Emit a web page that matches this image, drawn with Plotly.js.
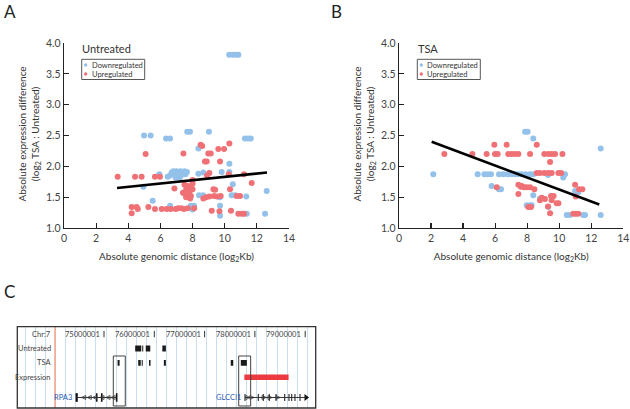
<!DOCTYPE html>
<html><head><meta charset="utf-8">
<script src="https://cdn.plot.ly/plotly-3.0.1.min.js"></script>
<style>html,body{margin:0;padding:0;background:#fff}#chart{width:630px;height:409px}</style>
</head><body><div id="chart"></div>
<script>
// ---------- DATA ----------
// Panel A (Untreated)
const untreatedDownX = [10.28,10.5,10.7,10.85,4.98,5.39,6.35,6.6,7.67,7.84,9.02,11.26,11.45,11.62,8.36,10.29,5.93,4.94,5.52,6.6,
  6.45,6.6,6.7,6.8,6.9,7.0,7.05,7.15,7.25,7.3,7.4,7.5,7.55,7.65,6.95,7.2,8.67,9.81,10.29,8.36,10.5,8.4,8.65,10.43,10.64,12.61,
  7.89,8.09,9.71,9.71,11.37,12.51,9.7,8.0,11.34];
const untreatedDownY = [3.81,3.81,3.81,3.81,2.50,2.50,2.45,2.45,2.56,2.56,2.56,2.45,2.45,2.45,2.29,2.04,1.87,1.67,1.44,1.36,
  1.83,1.85,1.90,1.92,1.88,1.92,1.85,1.90,1.92,1.86,1.90,1.92,1.87,1.91,1.82,1.81,1.90,1.91,1.91,1.88,1.71,1.53,1.53,1.53,1.53,1.60,
  1.36,1.36,1.36,1.20,1.23,1.23,1.50,1.30,1.51];
const untreatedUpX = [5.08,3.34,4.42,4.83,5.66,5.97,6.87,4.21,4.52,4.59,5.25,5.66,6.08,6.39,6.64,6.95,7.47,4.21,10.29,8.5,
  8.6,7.43,8.98,9.13,9.6,9.96,8.77,8.88,9.71,9.04,8.9,10.25,11.68,7.5,7.7,7.9,7.6,7.8,8.0,7.5,
  7.7,7.9,7.6,7.8,7.4,8.0,7.85,9.3,9.4,10.33,8.67,8.84,9.04,9.33,9.54,9.75,10.75,10.95,9.19,10.39,
  9.67,10.85,11.06,11.2,7.1,7.3,7.7,8.1,11.2,8.0];
const untreatedUpY = [2.20,1.83,1.83,1.83,1.83,1.83,1.64,1.34,1.34,1.31,1.34,1.31,1.31,1.31,1.31,1.31,1.31,1.24,2.37,2.35,
  2.33,2.21,2.21,2.21,2.28,2.28,2.08,2.08,2.08,1.89,1.85,1.87,1.73,1.70,1.68,1.66,1.62,1.60,1.63,1.56,
  1.55,1.52,1.50,1.58,1.57,1.72,1.48,1.63,1.62,1.63,1.48,1.50,1.51,1.52,1.51,1.52,1.52,1.52,1.28,1.28,
  1.27,1.23,1.23,1.23,1.32,1.32,1.32,1.32,1.87,1.78];
const untreatedFitX = [3.3, 12.63];
const untreatedFitY = [1.65, 1.90];

// Panel B (TSA)
const tsaDownX = [2.14,4.91,5.33,5.54,5.74,6.24,6.51,6.78,7.03,7.25,7.45,7.65,7.9,8.18,8.38,10.36,10.25,5.78,6.24,6.37,
  7.87,8.03,8.38,12.59,8.38,8.8,7.97,8.18,8.28,9.32,10.47,10.67,11.5,11.61,10.99,11.19,12.59,9.3];
const tsaDownY = [1.87,1.87,1.87,1.87,1.87,1.87,1.87,1.87,1.87,1.87,1.87,1.87,1.87,1.87,1.87,1.87,1.82,1.68,1.63,1.63,
  2.56,2.56,2.45,2.29,1.53,1.48,1.37,1.37,1.37,1.34,1.21,1.21,1.21,1.21,1.60,1.58,1.21,1.86];
const tsaUpX = [2.83,4.58,5.47,5.99,6.16,5.95,6.72,6.82,7.03,7.24,7.45,6.1,8.6,8.18,9.07,9.32,9.53,9.74,10.2,9.43,
  8.6,8.8,9.07,9.32,9.53,9.95,10.12,7.45,7.66,7.97,8.18,8.45,7.45,8.91,9.11,8.8,9.49,9.65,9.84,9.95,
  9.53,10.99,11.24,11.44,11.03,8.07,8.24,9.43,10.88,11.03,11.19,7.6,7.8,9.3];
const tsaUpY = [2.20,2.20,2.20,2.20,2.20,2.35,2.35,2.20,2.20,2.20,2.20,1.66,2.35,2.20,2.20,2.20,2.20,2.20,2.20,2.07,
  1.89,1.89,1.89,1.89,1.89,1.89,1.89,1.70,1.68,1.66,1.66,1.63,1.55,1.49,1.47,1.45,1.52,1.52,1.40,1.40,
  1.45,1.70,1.63,1.63,1.51,1.34,1.34,1.24,1.23,1.23,1.23,1.67,1.66,1.35];
const tsaFitX = [2.04, 12.5];
const tsaFitY = [2.40, 1.38];

const xTickVals = [0,2,4,6,8,10,12,14];
const yTickVals = [1.0,1.5,2.0,2.5,3.0,3.5,4.0];
const xTitleText = 'Absolute genomic distance (log<sub>2</sub>Kb)';
const yTitleText = 'Absolute expression difference<br>(log<sub>2</sub> TSA : Untreated)';

// Panel C (genome browser, chr7, Mb)
const trackNames = ['Chr:7','Untreated','TSA','Expression'];
const coordTicksMb = [75,76,77,78,79];
const coordTickLabels = ['75000001','76000001','77000001','78000001','79000001'];
const untreatedPeakStart = [75.62,75.76,75.83,76.16];
const untreatedPeakEnd   = [75.74,75.78,75.92,76.23];
const tsaPeakStart = [75.27,75.68,75.75,75.895,76.19,77.52,77.72];
const tsaPeakEnd   = [75.31,75.73,75.77,75.925,76.23,77.57,77.84];
const expressionStart = [77.79];
const expressionEnd   = [78.67];
const highlightStart = [75.185,77.678];
const highlightEnd   = [75.423,77.916];
const geneNames = ['RPA3','GLCCI1'];
const geneStart = [74.443,77.803];
const geneEnd   = [75.252,79.016];
const rpa3Exons = [74.45,74.462,74.855,74.955,75.252];
const rpa3Arrows = [74.557,74.668,74.775,74.92,75.04,75.14];
const glcci1Exons = [77.803,78.068,78.167,78.286,78.42,78.593,78.678,78.732,78.797,78.897];
const glcci1Arrows = [77.903,77.982,78.221,78.34,78.499];

// ---------- LAYOUT HELPERS ----------
const W = 630, H = 409;
const px = v => v / W;
const py = v => 1 - v / H;
const FONT = 'Lato, "Open Sans", sans-serif';
const BLUE = '#93c1ea', RED = '#ef7176';
const rowY = {'Chr:7':0,'Untreated':1,'TSA':2,'Expression':3,'Genes':4.4};

function scatter(x, y, color, xa, ya, name){
  return {type:'scatter', mode:'markers', x:x, y:y, xaxis:xa, yaxis:ya, name:name, showlegend:false,
    marker:{color:color, size:6, line:{width:0}}, hoverinfo:'x+y'};
}
function fit(x, y, xa, ya){
  return {type:'scatter', mode:'lines', x:x, y:y, xaxis:xa, yaxis:ya, showlegend:false,
    line:{color:'#000', width:2.6}, hoverinfo:'skip'};
}

const traces = [
  scatter(untreatedDownX, untreatedDownY, BLUE, 'x', 'y', 'Downregulated'),
  scatter(untreatedUpX, untreatedUpY, RED, 'x', 'y', 'Upregulated'),
  fit(untreatedFitX, untreatedFitY, 'x', 'y'),
  scatter(tsaDownX, tsaDownY, BLUE, 'x2', 'y2', 'Downregulated'),
  scatter(tsaUpX, tsaUpY, RED, 'x2', 'y2', 'Upregulated'),
  fit(tsaFitX, tsaFitY, 'x2', 'y2'),
  {type:'scatter', mode:'markers', x:rpa3Exons, y:rpa3Exons.map(()=>rowY.Genes), xaxis:'x3', yaxis:'y3', showlegend:false,
    marker:{symbol:'line-ns', size:6, line:{color:'#111', width:1.6}}, hoverinfo:'skip'},
  {type:'scatter', mode:'markers', x:rpa3Arrows, y:rpa3Arrows.map(()=>rowY.Genes), xaxis:'x3', yaxis:'y3', showlegend:false,
    marker:{symbol:'arrow-left-open', size:4, color:'#333', line:{color:'#333', width:0.8}}, hoverinfo:'skip'},
  {type:'scatter', mode:'markers', x:glcci1Exons, y:glcci1Exons.map(()=>rowY.Genes), xaxis:'x3', yaxis:'y3', showlegend:false,
    marker:{symbol:'line-ns', size:5, line:{color:'#111', width:1}}, hoverinfo:'skip'},
  {type:'scatter', mode:'markers', x:glcci1Arrows, y:glcci1Arrows.map(()=>rowY.Genes), xaxis:'x3', yaxis:'y3', showlegend:false,
    marker:{symbol:'arrow-right-open', size:4, color:'#333', line:{color:'#333', width:0.8}}, hoverinfo:'skip'},
  {type:'scatter', mode:'markers', x:[geneEnd[1]], y:[rowY.Genes], xaxis:'x3', yaxis:'y3', showlegend:false,
    marker:{symbol:'triangle-right', size:6, color:'#111'}, hoverinfo:'skip'}
];

const axisCommon = {
  showline:true, linecolor:'#222', linewidth:1.3, ticks:'inside', ticklen:5, tickwidth:1.2, tickcolor:'#222',
  showgrid:false, zeroline:false, automargin:false, tickfont:{family:FONT, size:10.5, color:'#444'}, fixedrange:true
};
const xTitle = {text:xTitleText, font:{family:FONT, size:10, color:'#333'}, standoff:10};

const layout = {
  width:W, height:H, margin:{l:0,r:0,t:0,b:0}, paper_bgcolor:'#fff', plot_bgcolor:'rgba(0,0,0,0)',
  showlegend:false, font:{family:FONT, color:'#333'},
  xaxis: Object.assign({}, axisCommon, {domain:[px(64), px(289)], range:[0,14], tickvals:xTickVals, anchor:'y', title:xTitle}),
  yaxis: Object.assign({}, axisCommon, {domain:[py(228), py(43)], range:[1,4], tickvals:yTickVals, tickformat:'.1f', anchor:'x'}),
  xaxis2: Object.assign({}, axisCommon, {domain:[px(399), px(623.3)], range:[0,14], tickvals:xTickVals, anchor:'y2', title:xTitle}),
  yaxis2: Object.assign({}, axisCommon, {domain:[py(228), py(43)], range:[1,4], tickvals:yTickVals, tickformat:'.1f', anchor:'x2'}),
  xaxis3: {domain:[px(17.3), px(315.7)], range:[73.276, 79.209], anchor:'y3', showgrid:true, gridcolor:'#c9def1', gridwidth:1,
    tick0:74.24, dtick:0.2, showticklabels:false, ticks:'', zeroline:false, showline:false, fixedrange:true},
  yaxis3: {domain:[py(408), py(326.7)], range:[5.13, -0.514], anchor:'x3', visible:false, fixedrange:true},
  shapes:[], annotations:[]
};

// y-axis titles (two lines, rotated)
[28.5, 363.5].forEach(x => layout.annotations.push({text:yTitleText, xref:'paper', yref:'paper', x:px(x), y:py(134),
  xanchor:'center', yanchor:'middle', textangle:-90, showarrow:false, align:'center',
  font:{family:FONT, size:10, color:'#333'}}));

// panel letters
[['A',2,-1],['B',329,-1],['C',2,279]].forEach(([t,x,y]) => layout.annotations.push({text:t, xref:'paper', yref:'paper',
  x:px(x), y:py(y), xanchor:'left', yanchor:'top', showarrow:false, font:{family:FONT, size:17, color:'#222'}}));

// in-plot titles and legends
function legendBox(title, left){
  layout.annotations.push({text:title, xref:'paper', yref:'paper', x:px(left-1.5), y:py(49), xanchor:'left', yanchor:'middle',
    showarrow:false, font:{family:FONT, size:11, color:'#333'}});
  layout.shapes.push({type:'rect', xref:'paper', yref:'paper', x0:px(left), x1:px(left+63), y0:py(59.3), y1:py(79.5),
    line:{color:'#555', width:1}, fillcolor:'rgba(0,0,0,0)'});
  [['Downregulated',BLUE,65],['Upregulated',RED,74]].forEach(([t,c,y]) => {
    layout.shapes.push({type:'circle', xref:'paper', yref:'paper', x0:px(left+2.3), x1:px(left+5.7), y0:py(y+1.7), y1:py(y-1.7),
      fillcolor:c, line:{width:0}});
    layout.annotations.push({text:t, xref:'paper', yref:'paper', x:px(left+8), y:py(y), xanchor:'left', yanchor:'middle',
      showarrow:false, font:{family:FONT, size:7.5, color:'#333'}});
  });
}
legendBox('Untreated', 81.7);
legendBox('TSA', 417.3);

// ---------- Panel C ----------
layout.shapes.push({type:'line', xref:'x3', yref:'y3 domain', x0:74.026, x1:74.026, y0:0, y1:1, line:{color:'#f3a68e', width:1.6}});
trackNames.forEach(n => layout.annotations.push({text:n, xref:'paper', yref:'y3', x:px(53), y:rowY[n], xanchor:'right', yanchor:'middle',
  showarrow:false, font:{family:FONT, size:7.5, color:'#444'}}));
coordTicksMb.forEach((m,i) => {
  layout.annotations.push({text:coordTickLabels[i], xref:'x3', yref:'y3', x:m, y:rowY['Chr:7'], xanchor:'right', yanchor:'middle',
    xshift:-2, showarrow:false, font:{family:FONT, size:7.5, color:'#444'}});
  layout.shapes.push({type:'line', xref:'x3', yref:'y3', x0:m, x1:m, y0:-0.22, y1:0.22, line:{color:'#333', width:1}});
});
function blocks(starts, ends, row, h, color){
  starts.forEach((s,i) => layout.shapes.push({type:'rect', xref:'x3', yref:'y3', x0:s, x1:ends[i], y0:row-h, y1:row+h,
    fillcolor:color, line:{width:0}}));
}
blocks(untreatedPeakStart, untreatedPeakEnd, rowY.Untreated, 0.21, '#1a1a1a');
blocks(tsaPeakStart, tsaPeakEnd, rowY.TSA, 0.2, '#1a1a1a');
blocks(expressionStart, expressionEnd, rowY.Expression, 0.19, '#ec3a40');
geneNames.forEach((g,i) => {
  layout.shapes.push({type:'line', xref:'x3', yref:'y3', x0:geneStart[i], x1:geneEnd[i], y0:rowY.Genes, y1:rowY.Genes,
    line:{color:'#333', width:1}});
  layout.annotations.push({text:g, xref:'x3', yref:'y3', x:geneStart[i], y:rowY.Genes, xanchor:'right', yanchor:'middle', xshift:-1.5,
    showarrow:false, font:{family:FONT, size:7.5, color:'#2b5bb0'}});
});
highlightStart.forEach((s,i) => layout.shapes.push({type:'rect', xref:'x3', yref:'y3', x0:s, x1:highlightEnd[i], y0:1.52, y1:4.99,
  line:{color:'#444', width:1}, fillcolor:'rgba(0,0,0,0)'}));
layout.shapes.push({type:'rect', xref:'x3 domain', yref:'y3 domain', x0:0, x1:1, y0:0, y1:1, line:{color:'#333', width:1.3},
  fillcolor:'rgba(0,0,0,0)'});

Plotly.newPlot('chart', traces, layout, {staticPlot:true, displayModeBar:false});
</script></body></html>
